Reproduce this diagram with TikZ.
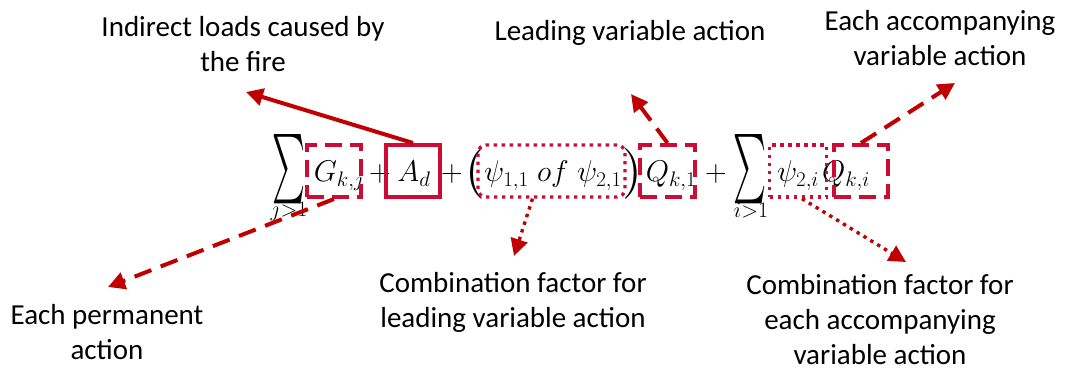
\RequirePackage{fix-cm}
\documentclass[tikz,border=0pt]{standalone}
\usepackage{fontspec}
\setmainfont{Carlito}
\usepackage{graphicx}
\usetikzlibrary{arrows.meta}
\definecolor{boxred}{RGB}{204,12,52}
\definecolor{arrred}{RGB}{192,0,0}
\begin{document}
\begin{tikzpicture}[x=1pt,y=-1pt,
  lbl/.style={font=\fontsize{29}{35}\selectfont, align=center, inner sep=0pt},
  mth/.style={font=\fontsize{30}{36}\selectfont, inner sep=0pt, anchor=base},
  lim/.style={font=\fontsize{22}{24}\selectfont, inner sep=0pt},
  bx/.style={draw=boxred, line width=4pt, minimum height=52pt, inner sep=0pt},
  dashbx/.style={bx, dash pattern=on 17pt off 8pt},
  dotbx/.style={bx, line width=3.4pt, dash pattern=on 3.4pt off 4.6pt},
  arr/.style={draw=arrred, line width=4pt, -{Triangle[length=17pt,width=17pt]}},
  darr/.style={arr, dash pattern=on 18pt off 10pt},
  oarr/.style={arr, line width=3.4pt, dash pattern=on 3.4pt off 4.6pt},
]
\useasboundingbox (0,0) rectangle (1077,371);

% labels
\node[lbl] (t1) at (243,44) {Indirect loads caused by\\the fire};
\node[lbl] (t2) at (630,33) {Leading variable action};
\node[lbl] (t3) at (940,38) {Each accompanying\\variable action};
\node[lbl] (t4) at (107,332) {Each permanent\\action};
\node[lbl] (t5) at (513,302) {Combination factor for\\leading variable action};
\node[lbl] (t6) at (880,320) {Combination factor for\\each accompanying\\variable action};

% formula
\node[inner sep=0pt] (s1) at (288.5,169) {\resizebox{33pt}{52pt}{$\sum$}};
\node[lim] (j1) at (289,211) {$j{>}1$};
\node[mth] (g) at (339,182) {$G_{k,j}$};
\node[mth] (p1) at (380,182) {$+$};
\node[mth] (a) at (414,182) {$A_d$};
\node[mth] (p2) at (452,182) {$+$};
\node[inner sep=0pt] (lp) at (475,174) {\resizebox{!}{38pt}{$($}};
\node[mth] (psi) at (553,182) {$\psi_{1,1}\;of\;\psi_{2,1}$};
\node[inner sep=0pt] (rp) at (632,174) {\resizebox{!}{38pt}{$)$}};
\node[mth] (q1) at (671,182) {$Q_{k,1}$};
\node[mth] (p3) at (716,182) {$+$};
\node[inner sep=0pt] (s2) at (750,169) {\resizebox{33pt}{52pt}{$\sum$}};
\node[lim] (i1) at (751,211) {$i{>}1$};
\node[mth] (psi2) at (798,182) {$\psi_{2,i}$};
\node[mth] (q2) at (846,182) {$Q_{k,i}$};

% boxes
\node[dashbx, minimum width=54pt] (gb) at (334,171) {};
\node[bx, minimum width=54pt] (ab) at (413,171) {};
\node[dotbx, rounded corners=8pt, minimum width=147pt] (pb) at (551.5,171) {};
\node[dashbx, minimum width=55pt] (qb1) at (667.5,171) {};
\node[dotbx, minimum width=57pt] (pb2) at (798,171) {};
\node[dashbx, minimum width=54pt] (qb2) at (861,171) {};

% arrow ends
\coordinate (c1) at (246,92);
\coordinate (c2) at (631,94);
\coordinate (c3) at (955,83);
\coordinate (c4) at (108,287);
\coordinate (c5) at (514,256);
\coordinate (c6) at (906,262);

% connectors
\draw[arr] (ab.north) -- (c1);
\draw[darr] (qb1.north) -- (c2);
\draw[darr] (qb2.north) -- (c3);
\draw[darr] (gb.south) -- (c4);
\draw[oarr] ([xshift=-19pt]pb.south) -- (c5);
\draw[oarr] ([xshift=4pt]pb2.south) -- (c6);
\end{tikzpicture}
\end{document}
